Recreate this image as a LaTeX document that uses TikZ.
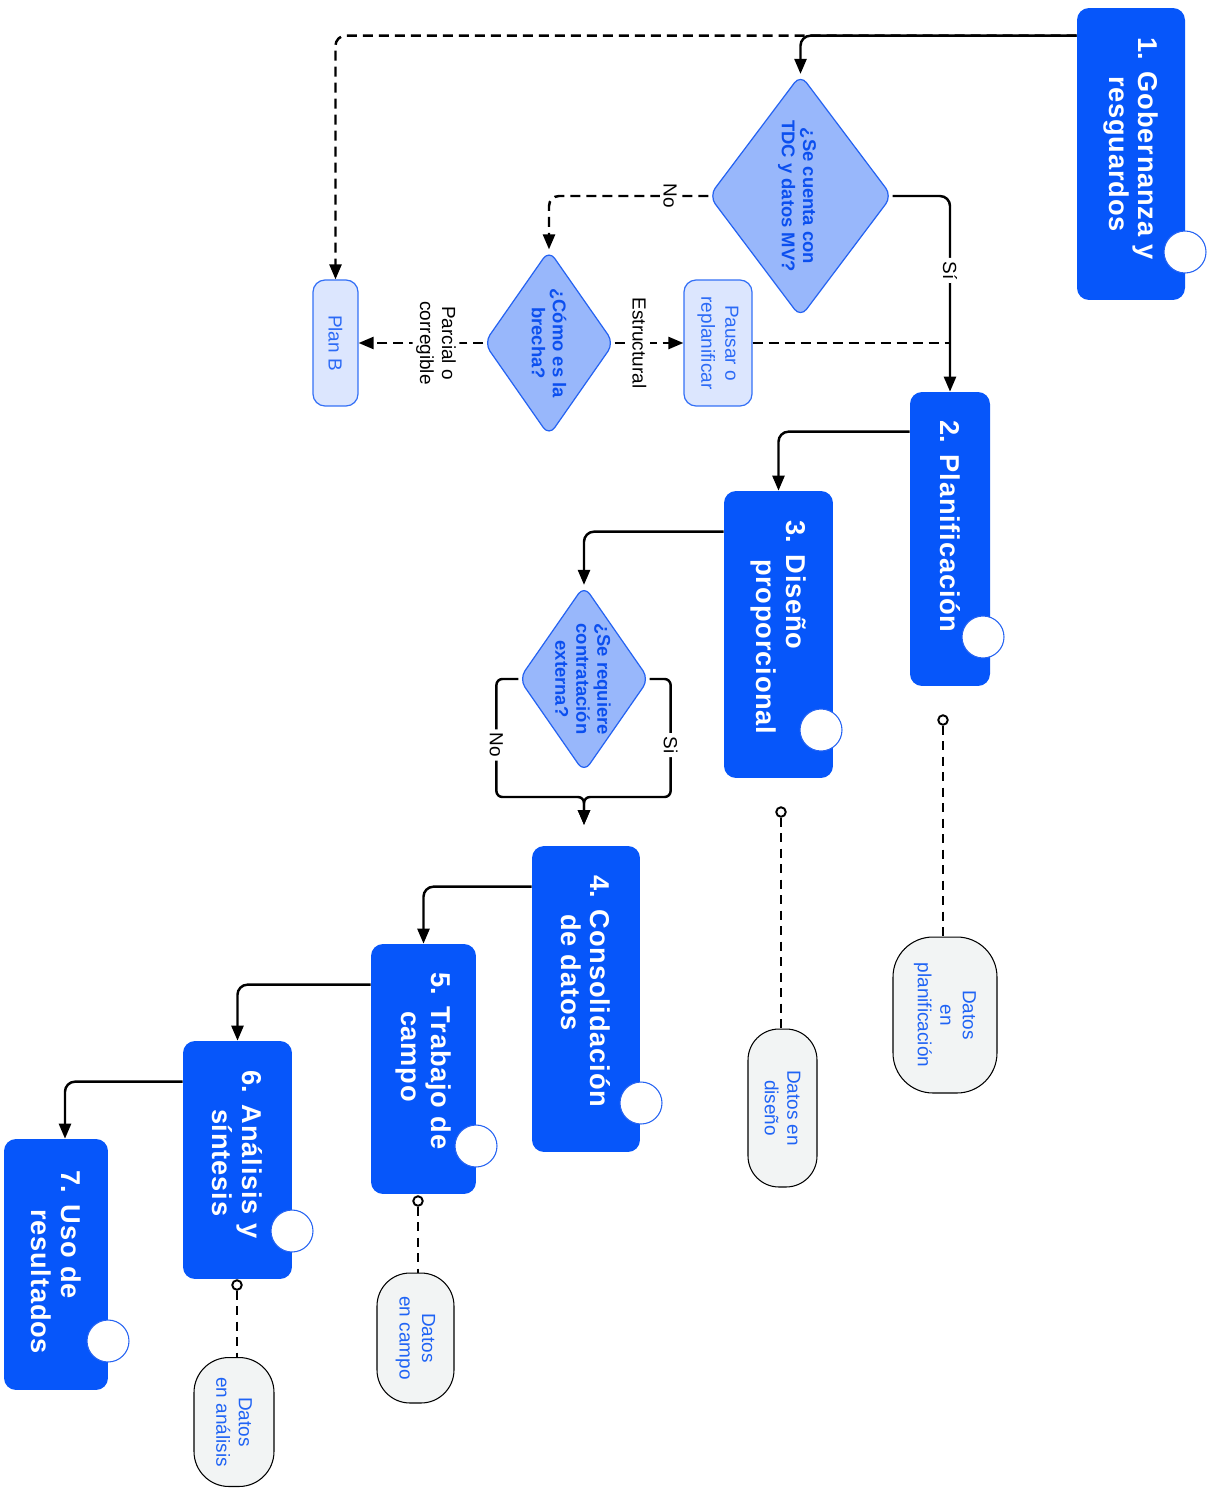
\documentclass[tikz,border=0pt]{standalone}
\usepackage{fontspec}
\setmainfont{Liberation Sans}
\usetikzlibrary{shapes.geometric,arrows.meta,calc}

\definecolor{stepblue}{HTML}{0656FA}
\definecolor{qfill}{HTML}{98B7FB}
\definecolor{qline}{HTML}{2563F2}
\definecolor{qtext}{HTML}{0B4FEF}
\definecolor{softfill}{HTML}{DCE6FE}
\definecolor{softline}{HTML}{3470F6}
\definecolor{softtext}{HTML}{2B6AF6}
\definecolor{datafill}{HTML}{F2F4F4}
\definecolor{datatext}{HTML}{1F63F5}

\tikzset{
  stepbox/.style={rotate=-90, fill=stepblue, rounded corners=0.24cm, inner sep=0pt},
  steptext/.style={rotate=-90, anchor=west, text=white, align=left, inner sep=0pt,
    font=\bfseries\fontsize{15.5}{16.8}\selectfont\addfontfeature{LetterSpace=3}},
  knob/.style={circle, draw=qline, line width=0.6pt, fill=white, minimum size=0.84cm, inner sep=0pt},
  ask/.style={diamond, rotate=-90, draw=qline, line width=0.7pt, fill=qfill, rounded corners=0.2cm, inner sep=0pt},
  asktext/.style={rotate=-90, text=qtext, align=center, inner sep=0pt,
    font=\bfseries\fontsize{10.5}{12}\selectfont},
  soft/.style={rotate=-90, draw=softline, line width=0.7pt, fill=softfill, rounded corners=0.24cm,
    text=softtext, align=center, inner sep=0pt, font=\fontsize{10.8}{13.7}\selectfont},
  datum/.style={rotate=-90, draw=black, line width=0.6pt, fill=datafill, text=datatext,
    align=center, inner sep=0pt, font=\fontsize{10.8}{12.8}\selectfont},
  lbl/.style={rotate=-90, fill=white, text=black, align=center, inner sep=2pt,
    font=\fontsize{10.8}{12.5}\selectfont},
  flow/.style={line width=1.4pt, rounded corners=0.2cm, -{Triangle[length=0.3cm,width=0.24cm]}},
  dflow/.style={flow, dash pattern=on 0.2cm off 0.12cm},
  dline/.style={line width=1.4pt, dash pattern=on 0.2cm off 0.12cm},
  dlink/.style={line width=1.1pt, dash pattern=on 0.18cm off 0.13cm},
  pin/.style={circle, draw=black, line width=1.1pt, fill=white, minimum size=0.19cm, inner sep=0pt},
}

\begin{document}
\begin{tikzpicture}[x=0.02cm, y=-0.02cm]
\useasboundingbox (0,0) rectangle (1207,1488);

% main steps
\node[stepbox, minimum width=5.84cm, minimum height=2.16cm] (b1) at (1131,154) {};
\node[stepbox, minimum width=5.88cm, minimum height=1.60cm] (b2) at (950,539) {};
\node[stepbox, minimum width=5.74cm, minimum height=2.18cm] (b3) at (778.5,634.5) {};
\node[stepbox, minimum width=6.12cm, minimum height=2.16cm] (b4) at (586,999) {};
\node[stepbox, minimum width=5.00cm, minimum height=2.10cm] (b5) at (423.5,1069) {};
\node[stepbox, minimum width=4.76cm, minimum height=2.18cm] (b6) at (237.5,1160) {};
\node[stepbox, minimum width=5.02cm, minimum height=2.08cm] (b7) at (56,1264.5) {};

\node[steptext] (t1) at ([shift={(0,29)}]b1.west) {1. Gobernanza y\\\hspace*{0.78cm}resguardos};
\node[steptext] (t2) at ([shift={(0,28)}]b2.west) {2. Planificación};
\node[steptext] (t3) at ([shift={(0,29)}]b3.west) {3. Diseño\\\hspace*{0.78cm}proporcional};
\node[steptext] (t4) at ([shift={(0,29)}]b4.west) {4. Consolidación\\\hspace*{0.78cm}de datos};
\node[steptext] (t5) at ([shift={(0,28)}]b5.west) {5. Trabajo de\\\hspace*{0.78cm}campo};
\node[steptext] (t6) at ([shift={(0,29)}]b6.west) {6. Análisis y\\\hspace*{0.78cm}síntesis};
\node[steptext] (t7) at ([shift={(0,31)}]b7.west) {7. Uso de\\\hspace*{0.78cm}resultados};

\node[knob] (c1) at (1185,252) {};
\node[knob] (c2) at (983,637) {};
\node[knob] (c3) at (821,730) {};
\node[knob] (c4) at (641,1103) {};
\node[knob] (c5) at (476,1146) {};
\node[knob] (c6) at (292,1231) {};
\node[knob] (c7) at (108,1341) {};

% decisions
\node[ask, minimum width=4.86cm, minimum height=3.66cm] (d1) at (800.5,196) {};
\node[asktext] (q1) at (797,196) {¿Se cuenta con\\TDC y datos MV?};
\node[ask, minimum width=3.72cm, minimum height=2.6cm] (d2) at (549,343) {};
\node[asktext] (q2) at (549,343) {¿Cómo es la\\brecha?};
\node[ask, minimum width=3.74cm, minimum height=2.6cm] (d3) at (584,679) {};
\node[asktext] (q3) at (583,679) {¿Se requiere\\contratación\\externa?};

% side outcomes
\node[soft, minimum width=2.52cm, minimum height=1.36cm] (p) at (718,343) {Pausar o\\replanificar};
\node[soft, minimum width=2.52cm, minimum height=0.90cm] (pb) at (335.5,343) {Plan B};

% data records
\node[datum, rounded corners=0.8cm, minimum width=3.12cm, minimum height=2.08cm] (s2) at (945,1015) {Datos\\en\\planificación};
\node[datum, rounded corners=0.62cm, minimum width=3.16cm, minimum height=1.38cm] (s3) at (782.5,1108) {Datos en\\diseño};
\node[datum, rounded corners=0.66cm, minimum width=2.6cm, minimum height=1.54cm] (s5) at (415.5,1338) {Datos\\en campo};
\node[datum, rounded corners=0.7cm, minimum width=2.58cm, minimum height=1.6cm] (s6) at (234,1422) {Datos\\en análisis};

\node[pin] (o2) at (943,720) {};
\node[pin] (o3) at (781,812) {};
\node[pin] (o5) at (418,1201) {};
\node[pin] (o6) at (237,1285) {};

\draw[dlink] (o2.south) -- (o2 |- s2.west);
\draw[dlink] (o3.south) -- (o3 |- s3.west);
\draw[dlink] (o5.south) -- (o5 |- s5.west);
\draw[dlink] (o6.south) -- (o6 |- s6.west);

% flow
\draw[dflow] ([shift={(0,28)}]b1.south west) -| (pb.west);
\draw[flow] ([shift={(0,28)}]b1.south west) -| (d1.west);
\draw[dline] (p.north) -- (p.north -| b2.west);
\draw[flow] (d1.north) -| node[lbl, pos=0.69] {Sí} (b2.west);
\draw[dflow] (d1.south) -| node[lbl, pos=0.12] {No} (d2.west);
\draw[dflow] (d2.north) -- node[lbl, pos=0.36] {Estructural} (p.south);
\draw[dflow] (d2.south) -- node[lbl, pos=0.38] {Parcial o\\corregible} (pb.north);

\draw[flow] ([shift={(0,40)}]b2.south west) -| (b3.west);
\draw[flow] ([shift={(0,41)}]b3.south west) -| (d3.west);

\coordinate (j3) at (584,797);
\coordinate (e4) at (584,825);
\draw[flow, rounded corners=0.12cm] (d3.north) -- ++(21,0) |- node[lbl, pos=0.28] {Si} (j3) -- (e4);
\draw[flow, rounded corners=0.12cm] (d3.south) -- ++(-22,0) |- node[lbl, pos=0.28] {No} (j3) -- (e4);

\draw[flow] ([shift={(0,41)}]b4.south west) -| (b5.west);
\draw[flow] ([shift={(0,41)}]b5.south west) -| (b6.west);
\draw[flow] ([shift={(0,41)}]b6.south west) -| ([shift={(9,0)}]b7.west);
\end{tikzpicture}
\end{document}
